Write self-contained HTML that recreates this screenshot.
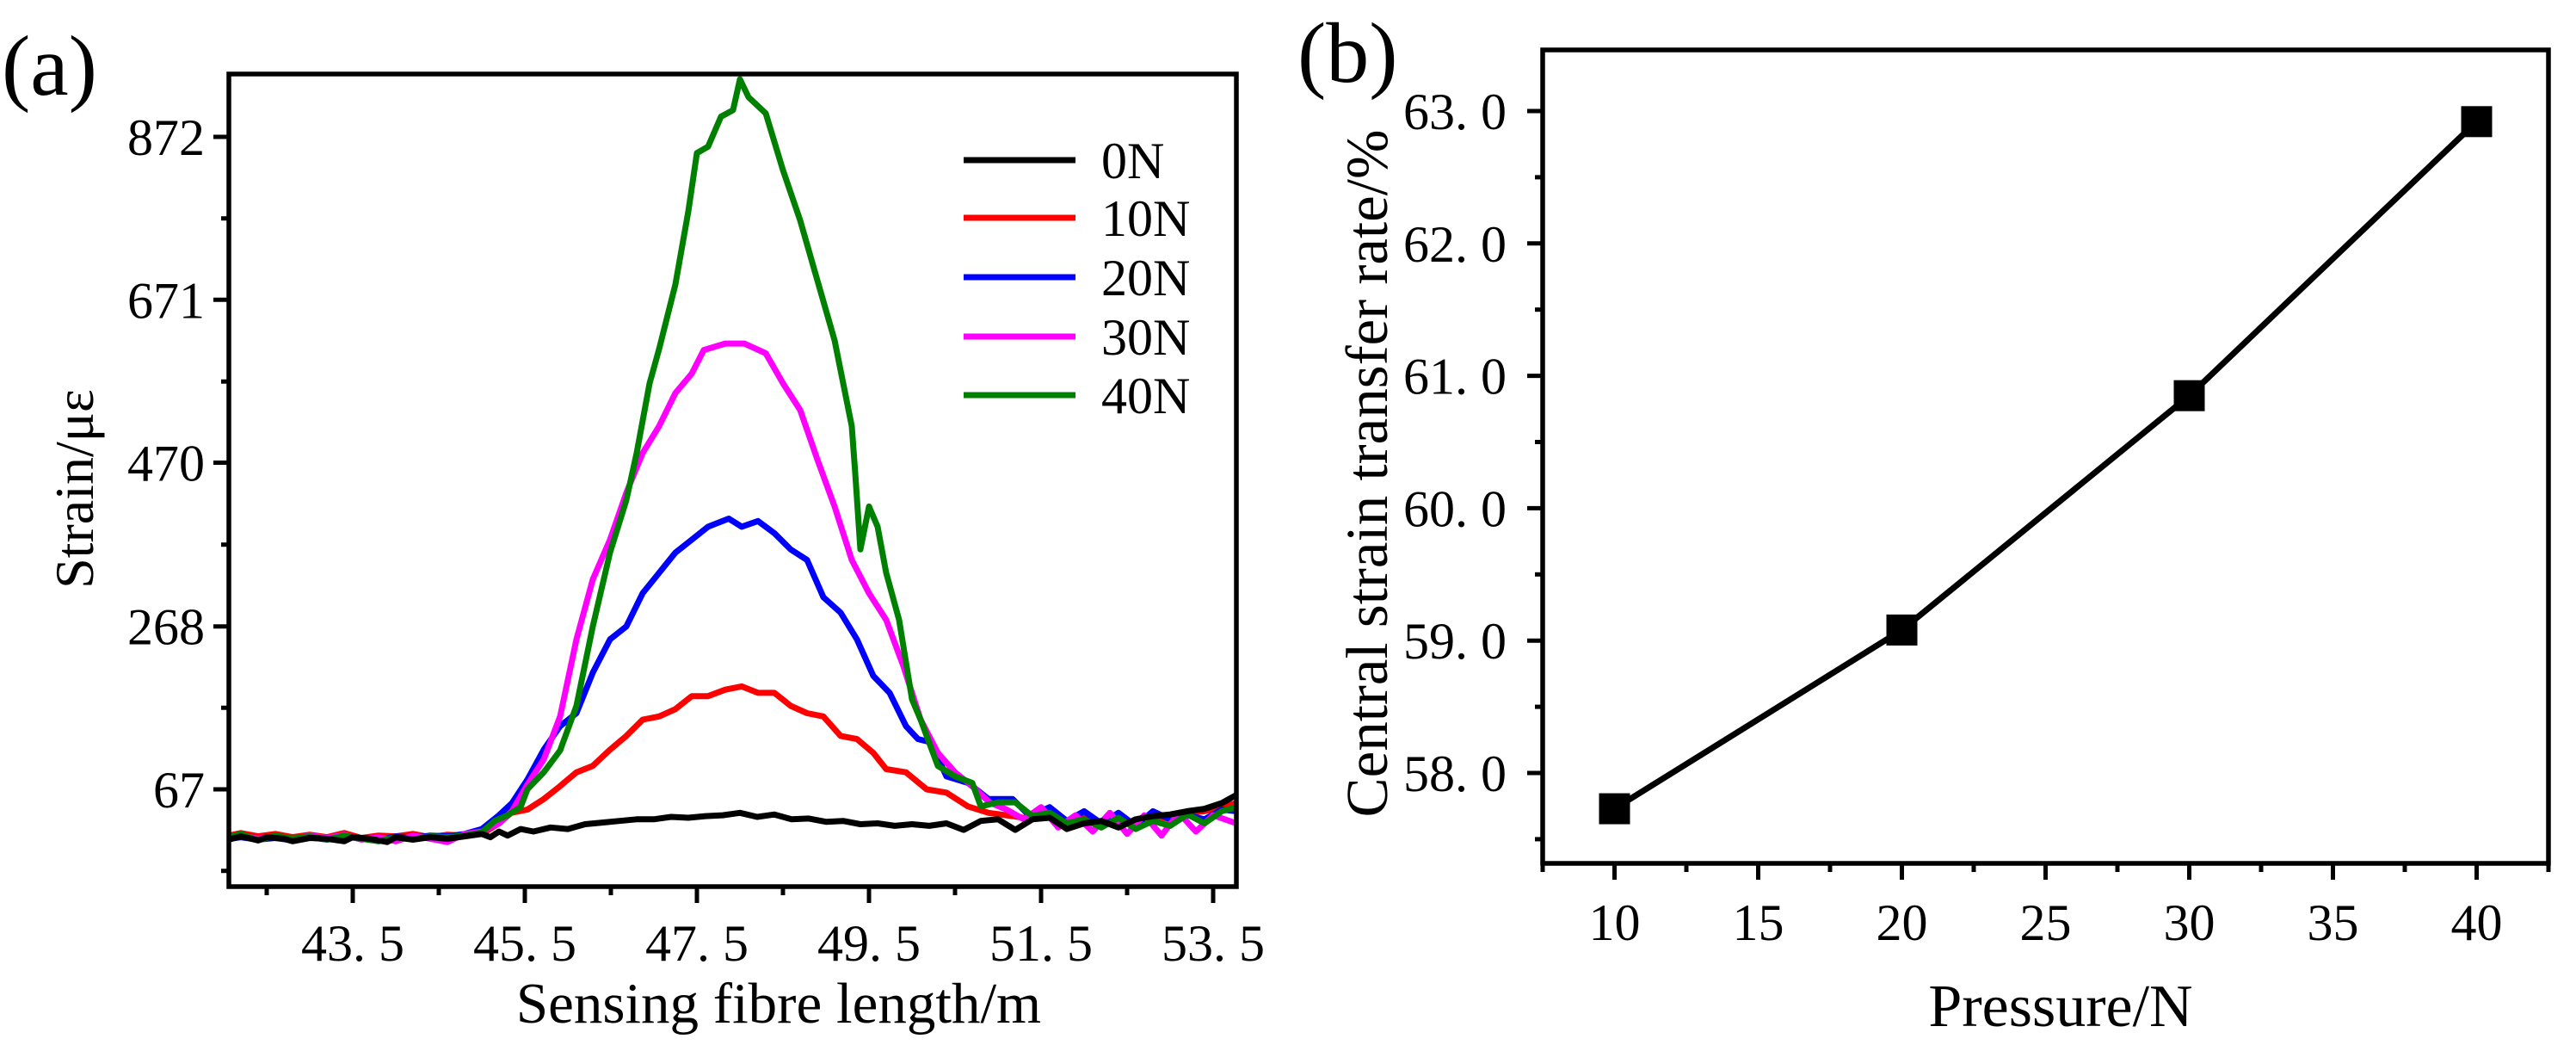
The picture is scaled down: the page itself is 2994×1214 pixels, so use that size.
<!DOCTYPE html>
<html><head><meta charset="utf-8"><style>
html,body{margin:0;padding:0;background:#fff;}
svg{display:block;}
text{font-family:"Liberation Serif","Noto Serif CJK SC",serif;fill:#000;}
</style></head><body>
<svg id="fig" width="2994" height="1214" viewBox="0 0 2994 1214" xmlns="http://www.w3.org/2000/svg">
<g id="chartA"></g>
<g id="chartB"></g>
</svg>
<script>
// ---------- Chart (a) data ----------
const seriesNames = ["0N","10N","20N","30N","40N"];
const seriesColors = ["#000000","#ff0000","#0000ff","#ff00ff","#008000"];
const yTickLabelsA = [67,268,470,671,872];
const xTickLabelsA = [43.5,45.5,47.5,49.5,51.5,53.5];
const baseX = [42.06,42.2,42.4,42.6,42.8,43.0,43.2,43.4,43.6,43.8,44.0,44.2,44.4,44.6,44.8];
const x0N = [42.06,42.2,42.4,42.5,42.7,42.8,43.0,43.2,43.4,43.5,43.7,43.9,44.0,44.2,44.4,44.6,44.8,45.0,45.1,45.2,45.3,45.45,45.6,45.8,46.0,46.2,46.4,46.6,46.8,47.0,47.2,47.4,47.6,47.8,48.0,48.2,48.4,48.6,48.8,49.0,49.2,49.4,49.6,49.8,50.0,50.2,50.4,50.6,50.8,51.0,51.2,51.4,51.6,51.8,52.0,52.2,52.4,52.6,52.8,53.0,53.2,53.4,53.6,53.77];
const y0N = [5,9,4,8,6,3,7,6,3,8,6,2,8,5,8,6,9,12,8,15,10,18,15,20,18,24,26,28,30,30,33,32,34,35,38,33,36,30,31,27,28,24,25,22,24,22,25,17,28,30,17,30,32,18,25,28,20,30,34,36,40,43,50,60];
const x10N = baseX.concat([45.0,45.2,45.34,45.53,45.72,45.91,46.1,46.29,46.49,46.68,46.87,47.06,47.25,47.44,47.63,47.83,48.02,48.21,48.4,48.59,48.78,48.97,49.17,49.36,49.55,49.7,49.93,50.17,50.4,50.65,50.89,51.17,51.4,51.6,51.8,52.0,52.2,52.4,52.6,52.8,53.0,53.2,53.4,53.6,53.77]);
const y10N = [10,13,9,12,8,11,8,13,7,10,9,12,8,11,10, 12,25,38,42,55,71,88,96,116,133,153,157,166,182,182,190,194,186,186,170,161,157,133,129,112,92,88,67,63,46,38,34,30,38,25,32,22,30,25,35,30,38,40,45,50];
const x20N = baseX.concat([45.0,45.2,45.35,45.53,45.72,45.91,46.1,46.29,46.49,46.68,46.87,47.06,47.25,47.44,47.63,47.87,48.02,48.21,48.4,48.59,48.78,48.97,49.17,49.36,49.55,49.74,49.93,50.07,50.22,50.4,50.65,50.89,51.17,51.37,51.6,51.8,52.0,52.2,52.4,52.6,52.8,53.0,53.2,53.4,53.6,53.77]);
const y20N = [6,8,5,7,4,8,5,9,6,4,9,7,10,9,12, 18,35,50,79,116,145,161,211,252,268,309,334,359,375,391,401,391,398,383,363,350,304,285,252,207,186,145,129,125,83,75,55,55,34,45,28,40,25,38,22,40,30,35,30,42,40];
const x30N = baseX.concat([45.0,45.2,45.35,45.53,45.72,45.91,46.1,46.29,46.49,46.68,46.87,47.06,47.25,47.44,47.58,47.83,48.05,48.3,48.5,48.7,48.9,49.1,49.3,49.5,49.7,49.9,50.1,50.3,50.5,50.7,50.9,51.1,51.3,51.5,51.7,51.9,52.1,52.3,52.5,52.7,52.9,53.1,53.3,53.5,53.77]);
const y30N = [8,10,6,9,5,10,7,11,5,8,3,10,6,2,12, 15,25,40,73,104,157,252,326,375,433,482,515,556,580,609,617,617,605,568,535,474,416,350,309,276,219,153,112,88,71,51,42,30,45,20,35,15,38,12,35,10,38,15,35,25];
const x40N = baseX.concat([45.0,45.15,45.3,45.45,45.53,45.72,45.91,46.1,46.29,46.49,46.68,46.8,46.95,47.06,47.25,47.4,47.5,47.63,47.78,47.92,48.0,48.1,48.3,48.5,48.7,48.9,49.1,49.3,49.34,49.4,49.5,49.6,49.7,49.85,50.0,50.1,50.3,50.5,50.7,50.8,51.0,51.2,51.4,51.6,51.8,52.0,52.2,52.4,52.6,52.8,53.0,53.2,53.4,53.6,53.77]);
const y40N = [8,12,4,10,6,9,5,10,6,3,8,5,9,8,10, 14,28,35,45,67,88,115,170,268,359,424,482,568,610,690,780,852,860,897,905,943,921,901,831,769,695,621,515,457,363,416,391,334,276,178,153,96,83,75,46,51,51,34,38,25,30,20,32,18,28,22,36,25,40,45];
const seriesX = [x0N,x10N,x20N,x30N,x40N];
const seriesY = [y0N,y10N,y20N,y30N,y40N];

// ---------- Chart (b) data ----------
const pressures = [10,20,30,40];
const transferRates = [57.73,59.08,60.85,62.92];
const xTickLabelsB = [10,15,20,25,30,35,40];
const yTickLabelsB = ["58. 0","59. 0","60. 0","61. 0","62. 0","63. 0"];
const yTickValuesB = [58,59,60,61,62,63];

const NS = "http://www.w3.org/2000/svg";
function mk(parent, tag, attrs, txt){
  const e = document.createElementNS(NS, tag);
  for (const k in attrs) e.setAttribute(k, attrs[k]);
  if (txt !== undefined) e.textContent = txt;
  parent.appendChild(e);
  return e;
}

// ===== Chart A =====
(function(){
  const g = document.getElementById('chartA');
  const L=266, R=1437, T=86, B=1030;
  const xmin=42.06, xmax=53.77;
  const ypx872=159, ypx67=917;
  const sx = v => L + (v - xmin) * (R - L) / (xmax - xmin);
  const sy = v => ypx67 - (v - 67) * (ypx67 - ypx872) / (872 - 67);

  const order = [1,2,3,4,0];
  order.forEach(i => {
    const pts = seriesX[i].map((x,j) => sx(x).toFixed(1)+','+sy(seriesY[i][j]).toFixed(1)).join(' ');
    const pl = mk(g,'polyline',{points:pts,fill:'none',stroke:seriesColors[i],'stroke-width':7,'stroke-linejoin':'round'});
    
    
  });
  const fr = mk(g,'rect',{x:L,y:T,width:R-L,height:B-T,fill:'none',stroke:'#000','stroke-width':5.5});
  
  
  yTickLabelsA.forEach(v => {
    const y = sy(v);
    mk(g,'line',{x1:L-18,x2:L,y1:y,y2:y,stroke:'#000','stroke-width':5});
    const t = mk(g,'text',{x:L-28,y:y+21,'font-size':60,'text-anchor':'end'}, String(v));
    
    
  });
  for (let k=0;k<yTickLabelsA.length+1;k++){
    const v = 67 - 100.6 + k*201.25;
    const y = sy(v);
    if (y > T && y < B) mk(g,'line',{x1:L-9,x2:L,y1:y,y2:y,stroke:'#000','stroke-width':5});
  }
  xTickLabelsA.forEach(v => {
    const x = sx(v);
    mk(g,'line',{x1:x,x2:x,y1:B,y2:B+19,stroke:'#000','stroke-width':5});
    const t = mk(g,'text',{x:x,y:B+86,'font-size':60,'text-anchor':'middle'}, v.toFixed(1).replace('.', '. '));
    
    
    const xm = sx(v-1);
    if (xm > L) mk(g,'line',{x1:xm,x2:xm,y1:B,y2:B+10,stroke:'#000','stroke-width':5});
  });
  const legY = [186,253,322,391,459];
  seriesNames.forEach((n,i) => {
    const lg = mk(g,'g',{});
    
    
    mk(lg,'line',{x1:1120,x2:1250,y1:legY[i],y2:legY[i],stroke:seriesColors[i],'stroke-width':7});
    mk(lg,'text',{x:1280,y:legY[i]+21,'font-size':60}, n);
  });
  const xt = mk(g,'text',{x:905,y:1188,'font-size':67,'text-anchor':'middle'},'Sensing fibre length/m');
  
  
  const yt = mk(g,'text',{x:0,y:0,'font-size':64,'text-anchor':'middle',transform:'translate(108,568) rotate(-90)'},'Strain/με');
  
  
  const pl = mk(g,'text',{x:2,y:110,'font-size':100},'(a)');
  
  
})();

// ===== Chart B =====
(function(){
  const g = document.getElementById('chartB');
  const L=1793, R=2962, T=58, B=1003;
  const xmin=7.5, xmax=42.5;
  const sx = v => L + (v - xmin) * (R - L) / (xmax - xmin);
  const sy = v => 898 - (v - 58) * 153.8;

  const fr = mk(g,'rect',{x:L,y:T,width:R-L,height:B-T,fill:'none',stroke:'#000','stroke-width':5.5});
  
  
  yTickValuesB.forEach((v,i) => {
    const y = sy(v);
    mk(g,'line',{x1:L-18,x2:L,y1:y,y2:y,stroke:'#000','stroke-width':5});
    const ym = sy(v-0.5);
    if (ym < B) mk(g,'line',{x1:L-9,x2:L,y1:ym,y2:ym,stroke:'#000','stroke-width':5});
    const t = mk(g,'text',{x:L-42,y:y+21,'font-size':60,'text-anchor':'end'}, yTickLabelsB[i]);
    
    
  });
  const ym2 = sy(63.5); if (ym2 > T) mk(g,'line',{x1:L-9,x2:L,y1:ym2,y2:ym2,stroke:'#000','stroke-width':5});
  xTickLabelsB.forEach(v => {
    const x = sx(v);
    mk(g,'line',{x1:x,x2:x,y1:B,y2:B+19,stroke:'#000','stroke-width':5});
    const xm = sx(v-2.5);
    if (xm >= L-1) mk(g,'line',{x1:xm,x2:xm,y1:B,y2:B+10,stroke:'#000','stroke-width':5});
    const t = mk(g,'text',{x:x,y:B+89,'font-size':60,'text-anchor':'middle'}, String(v));
    
    
  });
  mk(g,'line',{x1:R,x2:R,y1:B,y2:B+10,stroke:'#000','stroke-width':5});
  const pts = pressures.map((p,i) => sx(p).toFixed(1)+','+sy(transferRates[i]).toFixed(1)).join(' ');
  const ln = mk(g,'polyline',{points:pts,fill:'none',stroke:'#000','stroke-width':7});
  
  
  pressures.forEach((p,i) => {
    const m = mk(g,'rect',{x:sx(p)-18,y:sy(transferRates[i])-18,width:36,height:36,fill:'#000'});
    
    
  });
  const xt = mk(g,'text',{x:2395,y:1192,'font-size':70,'text-anchor':'middle'},'Pressure/N');
  
  
  const yt = mk(g,'text',{x:0,y:0,'font-size':69,'text-anchor':'middle',transform:'translate(1612,550) rotate(-90)'},'Central strain transfer rate/%');
  
  
  const pl = mk(g,'text',{x:1508,y:95,'font-size':100},'(b)');
  
  
})();
</script>
</body></html>
